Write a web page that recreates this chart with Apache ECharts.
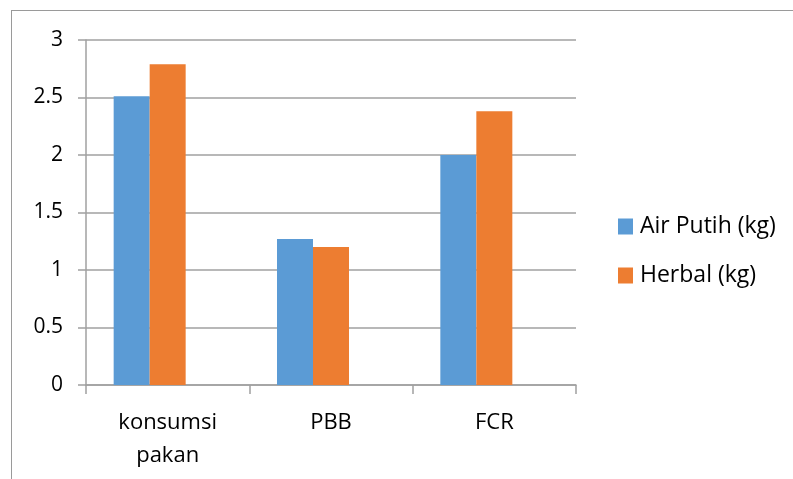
<!DOCTYPE html>
<html><head><meta charset="utf-8">
<script src="https://cdn.jsdelivr.net/npm/echarts@6/dist/echarts.min.js"></script>
<style>html,body{margin:0;padding:0;background:#fff}#c{width:793px;height:479px}</style>
</head><body><div id="c"></div>
<script>
const categories = ['konsumsi\npakan', 'PBB', 'FCR'];
const airPutih = [2.51, 1.27, 2.0];
const herbal = [2.79, 1.2, 2.38];
const emptySeries = [null, null, null];
const seriesNames = ['Air Putih (kg)', 'Herbal (kg)'];
const yTicks = [0, 0.5, 1, 1.5, 2, 2.5, 3];

const font = '"Open Sans", "Noto Sans", sans-serif';
const chart = echarts.init(document.getElementById('c'), null, {renderer: 'canvas'});
chart.setOption({
  animation: false,
  textStyle: {fontFamily: font},
  graphic: [
    {type: 'line', shape: {x1: 11, y1: 10.5, x2: 793, y2: 10.5}, style: {stroke: '#9a9a9a', lineWidth: 1}},
    {type: 'line', shape: {x1: 11.5, y1: 10, x2: 11.5, y2: 479}, style: {stroke: '#9a9a9a', lineWidth: 1}}
  ],
  legend: {
    orient: 'vertical', left: 613, top: 210, itemWidth: 15, itemHeight: 16, itemGap: 26,
    data: seriesNames, icon: 'rect',
    textStyle: {fontFamily: font, fontSize: 23, color: '#000', padding: [0, 0, 0, 2]}
  },
  grid: {left: 86, right: 217, top: 40, bottom: 94},
  xAxis: {
    type: 'category', data: categories,
    axisLine: {lineStyle: {color: '#a0a0a0', width: 1.5}},
    axisTick: {show: true, length: 9, lineStyle: {color: '#a0a0a0', width: 1.5}},
    axisLabel: {fontFamily: font, fontSize: 22, color: '#000', margin: 21, lineHeight: 33}
  },
  yAxis: {
    type: 'value', min: 0, max: 3, interval: 0.5,
    axisLine: {show: true, lineStyle: {color: '#a0a0a0', width: 1.5}},
    axisTick: {show: true, length: 8, lineStyle: {color: '#a0a0a0', width: 1.5}},
    splitLine: {lineStyle: {color: '#a0a0a0', width: 1.5}},
    axisLabel: {fontFamily: font, fontSize: 21, color: '#000', margin: 23,
      formatter: v => yTicks.includes(v) ? String(v) : ''}
  },
  series: [
    {name: seriesNames[0], type: 'bar', data: airPutih, barWidth: 36, barGap: '0%', itemStyle: {color: '#5b9bd5'}},
    {name: seriesNames[1], type: 'bar', data: herbal, barWidth: 36, barGap: '0%', itemStyle: {color: '#ed7d31'}},
    {name: 'empty', type: 'bar', data: emptySeries, barWidth: 36, barGap: '0%'}
  ]
});
</script></body></html>
